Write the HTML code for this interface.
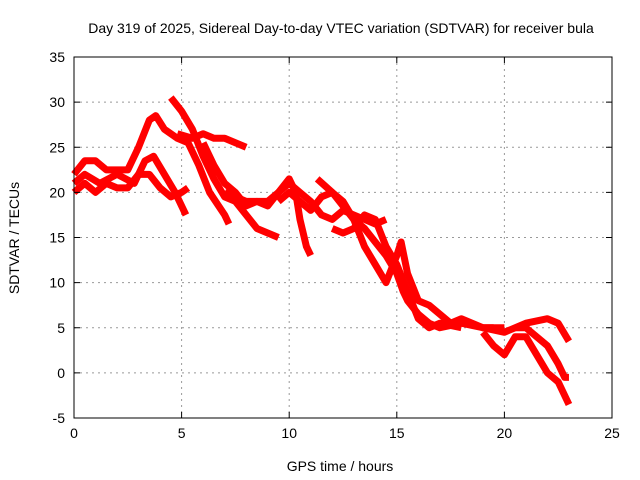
<!DOCTYPE html>
<html><head><meta charset="utf-8"><style>
body{margin:0;background:#fff;}
svg{display:block;font-family:"Liberation Sans",sans-serif;}
</style></head><body>
<svg id="chart" width="640" height="480" viewBox="0 0 640 480">
<rect width="640" height="480" fill="#fff"/>
<text x="341" y="33" font-size="14" text-anchor="middle">Day 319 of 2025, Sidereal Day-to-day VTEC variation (SDTVAR) for receiver bula</text>
<text x="340" y="471" font-size="14" text-anchor="middle">GPS time / hours</text>
<text transform="translate(19,238) rotate(-90)" font-size="14" text-anchor="middle">SDTVAR / TECUs</text>
<g id="grid"></g><g id="series"></g><g id="axes"></g>
</svg>
<script>
const xTicks=[0,5,10,15,20,25];
const yTicks=[-5,0,5,10,15,20,25,30,35];
const t1x=[0,0.5,1,1.5,2.5,3,3.5,3.8,4.2,4.8,5.3,5.8,6.3,7,7.2];
const t1y=[22,23.5,23.5,22.5,22.5,25,28,28.5,27,26,25.5,23,20,17.5,16.5];
const t2x=[0,0.5,1.2,2,2.8,3.3,3.7,4.2,4.7,5.2];
const t2y=[21,22,21,22,21,23.5,24,22,20,17.5];
const t3x=[0,0.5,1,1.5,2,2.5,3,3.5,4,4.5,5,5.3];
const t3y=[20,21,20,21,20.5,20.5,22,22,20.5,19.5,20,20.5];
const t4x=[4.5,5,5.5,6,6.5,7,7.5,8,8.5,9.5];
const t4y=[30.5,29,27,24,21.5,19.5,19,17.5,16,15];
const t5x=[4.8,5.5,6,6.5,7,7.5,8];
const t5y=[26.5,26,26.5,26,26,25.5,25];
const t6x=[6,6.5,7,7.5,8,8.5,9,9.5,10,10.3,10.5,10.8,11];
const t6y=[25.5,23,21,20,18.5,19,19,20,21.5,20,17,14,13];
const t7x=[7,7.5,8,8.5,9,9.5,10,10.5,11,11.5,12,12.5,13,13.5,14,14.5];
const t7y=[20,19.5,19,19,18.5,20,21,20,19,17.5,17,18,17.5,17,16.5,17];
const t8x=[9.5,10,11,11.5,12,12.5,13,13.5,14,14.5,15,15.3,15.5,16,16.5,17,18,19,20];
const t8y=[19,20,18,19.5,20,18.5,17,16,14.5,13,11,9,8,6.5,5.5,5,5.5,5,5];
const t9x=[11.3,12,12.5,13,13.5,14,14.5,15,15.2,15.5,16,16.5,17,17.5,18,19,19.5];
const t9y=[21.5,20,19,17,14,12,10,13,14.5,11,8,7.5,6.5,5.5,6,5,5];
const t10x=[12,12.5,13,13.5,14,14.5,15,15.5,16,16.5,17,18];
const t10y=[16,15.5,16,17.5,17,14,12,9,6,5,5.5,5];
const t11x=[19,20,21,22,22.5,23];
const t11y=[5,4.5,5.5,6,5.5,3.5];
const t12x=[19,19.5,20,20.5,21,21.5,22,22.5,23];
const t12y=[4.5,3,2,4,4,2,0,-1,-3.5];
const t13x=[20.5,21,21.5,22,22.5,22.8,23];
const t13y=[5,5,4,3,1,-0.5,-0.5];
const tracksX=[t1x,t2x,t3x,t4x,t5x,t6x,t7x,t8x,t9x,t10x,t11x,t12x,t13x];
const tracksY=[t1y,t2y,t3y,t4y,t5y,t6y,t7y,t8y,t9y,t10y,t11y,t12y,t13y];

const L=74,R=612,T=57,B=418;
const sx=v=>L+(v-0)/(25-0)*(R-L);
const sy=v=>B-(v+5)/(35+5)*(B-T);
const NS="http://www.w3.org/2000/svg";
function mk(tag,attrs,parent){const e=document.createElementNS(NS,tag);for(const k in attrs)e.setAttribute(k,attrs[k]);parent.appendChild(e);return e;}
const grid=document.getElementById('grid'),axes=document.getElementById('axes'),series=document.getElementById('series');
xTicks.forEach(v=>{
  const x=sx(v);
  if(v>0&&v<25){const g=mk('line',{x1:x,x2:x,y1:T,y2:B,stroke:'#999','stroke-dasharray':'2,4','stroke-width':1},grid);
  
  }
  mk('line',{x1:x,x2:x,y1:B,y2:B-6,stroke:'#000'},axes);
  mk('line',{x1:x,x2:x,y1:T,y2:T+6,stroke:'#000'},axes);
  const t=mk('text',{x:x,y:B+20,'font-size':14,'text-anchor':'middle'},axes);t.textContent=v;
  
  
});
yTicks.forEach(v=>{
  const y=sy(v);
  if(v>-5&&v<35){const g=mk('line',{x1:L,x2:R,y1:y,y2:y,stroke:'#999','stroke-dasharray':'2,4','stroke-width':1},grid);
  
  }
  mk('line',{x1:L,x2:L+6,y1:y,y2:y,stroke:'#000'},axes);
  mk('line',{x1:R,x2:R-6,y1:y,y2:y,stroke:'#000'},axes);
  const t=mk('text',{x:L-9,y:y+5,'font-size':14,'text-anchor':'end'},axes);t.textContent=v;
  
  
});
const fr=mk('rect',{x:L,y:T,width:R-L,height:B-T,fill:'none',stroke:'#000'},axes);


tracksX.forEach((xs,i)=>{
  const ys=tracksY[i];
  const pts=xs.map((x,j)=>sx(x)+','+sy(ys[j])).join(' ');
  const p=mk('polyline',{points:pts,fill:'none',stroke:'#f00','stroke-width':7,'stroke-linejoin':'round','stroke-linecap':'butt'},series);
  
  
});
</script>
</body></html>
